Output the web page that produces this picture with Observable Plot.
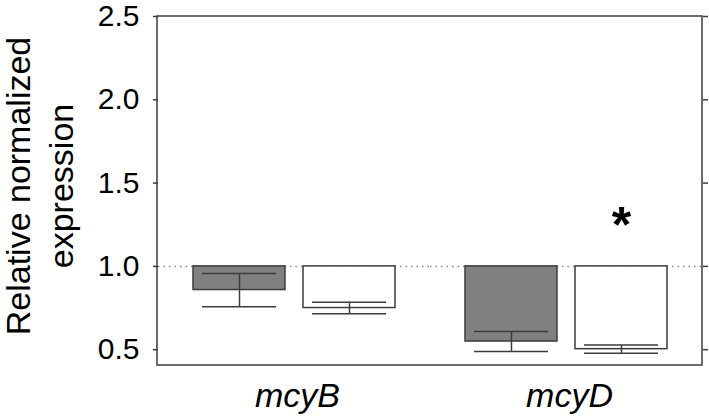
<!DOCTYPE html>
<html>
<head>
<meta charset="utf-8">
<script src="https://cdn.jsdelivr.net/npm/d3@7"></script>
<script src="https://cdn.jsdelivr.net/npm/@observablehq/plot@0.6"></script>
<style>
  html, body { margin: 0; padding: 0; background: #fff; }
  #chart svg { display: block; }
</style>
</head>
<body>
<div id="chart"></div>
<script>
// ---- data ----
const genes = ["mcyB", "mcyD"];
const series = ["Treatment", "Control"];
const treatmentMean = [0.858, 0.549];
const treatmentErr = [0.100, 0.060];
const controlMean = [0.750, 0.503];
const controlErr = [0.035, 0.025];
const yTicks = [0.5, 1.0, 1.5, 2.0, 2.5];
const yDomain = [0.405, 2.5];
const baseline = 1.0;
const yLabelLines = ["Relative normalized", "expression"];
const significance = [{gene: "mcyD", series: "Control", mark: "*"}];

// ---- table ----
const rows = [];
genes.forEach((g, i) => {
  rows.push({gene: g, series: series[0], mean: treatmentMean[i], err: treatmentErr[i]});
  rows.push({gene: g, series: series[1], mean: controlMean[i], err: controlErr[i]});
});

const font = "'Liberation Sans', Arial, Helvetica, sans-serif";
const ink = "#3c3c3c";

const plot = Plot.plot({
  width: 709,
  height: 417,
  marginLeft: 157,
  marginRight: 7,
  marginTop: 16,
  marginBottom: 52,
  style: {fontFamily: font, color: "#000", background: "#fff"},
  fx: {domain: genes, paddingInner: 0, paddingOuter: 0, label: null},
  x: {domain: series, paddingInner: 0.167, paddingOuter: 0.309, axis: null},
  y: {domain: yDomain, label: null},
  color: {domain: series, range: ["#808080", "#ffffff"]},
  marks: [
    Plot.ruleY([baseline], {stroke: "#8a8a8a", strokeWidth: 1.5, strokeDasharray: "1.5,4"}),
    Plot.barY(rows, {
      fx: "gene", x: "series",
      y1: () => baseline, y2: "mean",
      fill: "series", stroke: ink, strokeWidth: 1.5
    }),
    Plot.ruleX(rows, {
      fx: "gene", x: "series",
      y1: d => d.mean - d.err, y2: d => d.mean + d.err,
      stroke: ink, strokeWidth: 1.5
    }),
    Plot.tickY(rows, {
      fx: "gene", x: "series", y: d => d.mean + d.err,
      stroke: ink, strokeWidth: 1.5, insetLeft: 9, insetRight: 9
    }),
    Plot.tickY(rows, {
      fx: "gene", x: "series", y: d => d.mean - d.err,
      stroke: ink, strokeWidth: 1.5, insetLeft: 9, insetRight: 9
    }),
    Plot.text(significance, {
      fx: "gene", x: "series", y: () => baseline, text: "mark",
      fontSize: 50, fontWeight: "bold", fill: "#000", dy: -40
    }),
    Plot.axisY({
      anchor: "left", ticks: yTicks, tickSize: 5, tickPadding: 14,
      tickFormat: d3.format(".1f"), fontSize: 30, label: null, stroke: ink, strokeWidth: 1.5
    }),
    Plot.axisY({
      anchor: "right", ticks: yTicks, tickSize: 5,
      tickFormat: () => "", label: null, stroke: ink, strokeWidth: 1.5
    }),
    Plot.axisFx({
      anchor: "bottom", tickSize: 0, tickPadding: 17, fontSize: 34,
      fontStyle: "italic", label: null, dx: 3
    }),
    Plot.text([{gene: genes[0], line: yLabelLines[0]}], {
      fx: "gene", frameAnchor: "left", text: "line", rotate: -90,
      textAnchor: "middle", dx: -139, dy: -5, fontSize: 34, fill: "#000"
    }),
    Plot.text([{gene: genes[0], line: yLabelLines[1]}], {
      fx: "gene", frameAnchor: "left", text: "line", rotate: -90,
      textAnchor: "middle", dx: -96, dy: -5, fontSize: 34, fill: "#000"
    })
  ]
});

// frame around the whole plotting area, from the plot's own scales
const fxR = plot.scale("fx").range;
const yR = plot.scale("y").range;
d3.select(plot).append("rect")
  .attr("x", Math.min(...fxR)).attr("y", Math.min(...yR))
  .attr("width", Math.abs(fxR[1] - fxR[0]))
  .attr("height", Math.abs(yR[1] - yR[0]))
  .attr("fill", "none").attr("stroke", ink).attr("stroke-width", 1.5);

document.getElementById("chart").appendChild(plot);
</script>
</body>
</html>
